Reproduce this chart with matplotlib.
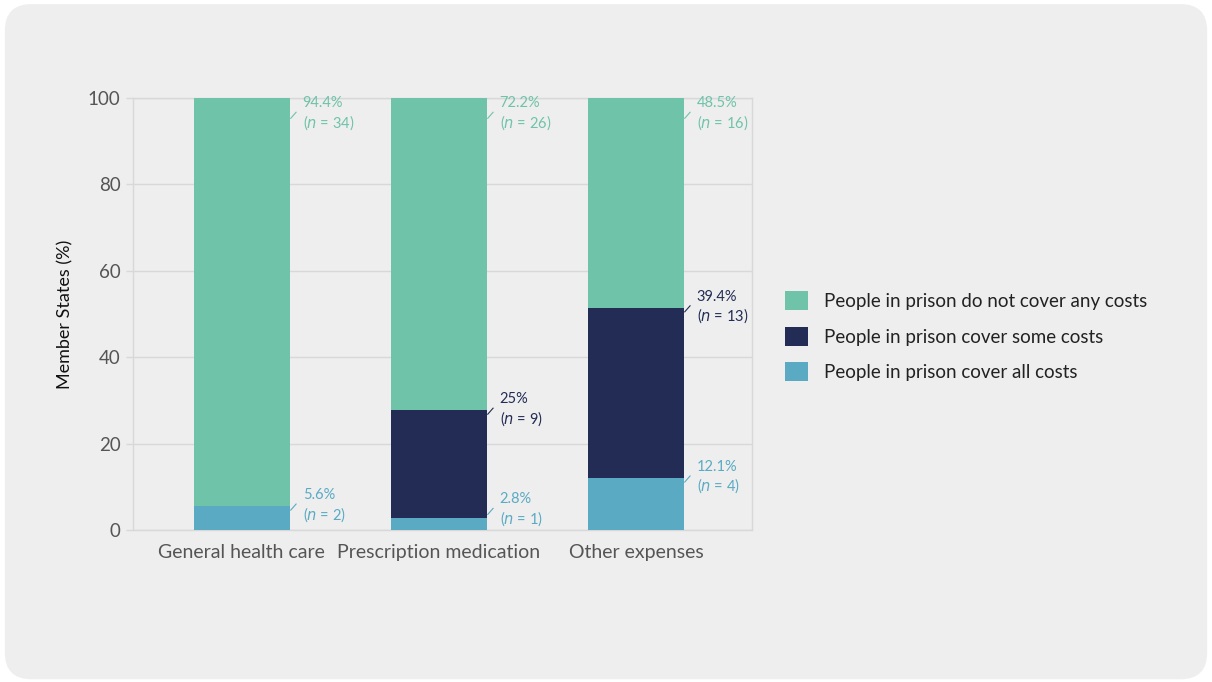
import matplotlib.pyplot as plt
import numpy as np
from matplotlib.patches import FancyBboxPatch, Patch

plt.rcParams["font.family"] = ["Lato", "DejaVu Sans"]

categories = ["General health care", "Prescription medication", "Other expenses"]
series_names = [
    "People in prison cover all costs",
    "People in prison cover some costs",
    "People in prison do not cover any costs",
]
# percentages of Member States, bottom segment first
pct_all = [5.6, 2.8, 12.1]
pct_some = [0.0, 25.0, 39.4]
pct_none = [94.4, 72.2, 48.5]
# number of Member States per segment
n_all = [2, 1, 4]
n_some = [0, 9, 13]
n_none = [34, 26, 16]

colors = ["#5aaac4", "#222c54", "#6ec3a9"]

fig = plt.figure(figsize=(12.12, 6.82), dpi=100)
fig.patch.set_facecolor("white")
fig.patches.append(
    FancyBboxPatch(
        (0.004, 0.004), 0.992, 0.99,
        boxstyle="round,pad=0,rounding_size=0.022",
        transform=fig.transFigure, facecolor="#eeeeee", edgecolor="none",
        mutation_aspect=1212 / 682, zorder=-10,
    )
)

ax = fig.add_axes([0.1097, 0.2229, 0.5107, 0.6334])
ax.set_facecolor("none")
ax.set_zorder(2)

x = np.arange(len(categories))
width = 0.49
values = [pct_all, pct_some, pct_none]
counts = [n_all, n_some, n_none]

bottom = np.zeros(len(categories))
for vals, cnts, color in zip(values, counts, colors):
    vals = np.array(vals)
    ax.bar(x, vals, width, bottom=bottom, color=color, edgecolor="none", zorder=3)
    tops = bottom + vals
    for i in range(len(categories)):
        if vals[i] <= 0:
            continue
        yc = min(max(tops[i], 4.6), 96.3)
        xr = x[i] + width / 2
        ax.plot([xr + 0.003, xr + 0.03], [yc - 1.0, yc + 0.4],
                color=color, lw=0.8, zorder=4, clip_on=False)
        ax.annotate(
            f"{vals[i]:g}%\n($n$ = {cnts[i]})",
            xy=(xr, yc), xytext=(9, 0), textcoords="offset points",
            ha="left", va="center", fontsize=10.5, color=color,
            linespacing=1.2, zorder=5,
        )
    bottom = tops

ax.set_xlim(-0.553, 2.589)
ax.set_ylim(0, 100)
ax.set_yticks([0, 20, 40, 60, 80, 100])
ax.set_xticks(x)
ax.set_xticklabels(categories, fontsize=14, color="#555555")
ax.tick_params(axis="x", length=0, pad=10)
ax.tick_params(axis="y", length=5, color="#d8d8d8", width=1,
               labelsize=13.5, labelcolor="#555555", pad=4)
ax.grid(axis="y", color="#d8d8d8", lw=1, zorder=0)
for side in ["left", "right", "top", "bottom"]:
    ax.spines[side].set_color("#d8d8d8")
    ax.spines[side].set_linewidth(1)
ax.set_ylabel("Member States (%)", fontsize=13, color="#111111", labelpad=10)

handles = [Patch(facecolor=c, edgecolor="none") for c in colors[::-1]]
fig.legend(
    handles, series_names[::-1],
    loc="center left", bbox_to_anchor=(0.634, 0.507),
    frameon=False, fontsize=13.5, labelcolor="#222222",
    handlelength=1.2, handleheight=1.2, labelspacing=0.86, handletextpad=0.85,
)

fig.savefig("out.png", dpi=100, facecolor="white")
